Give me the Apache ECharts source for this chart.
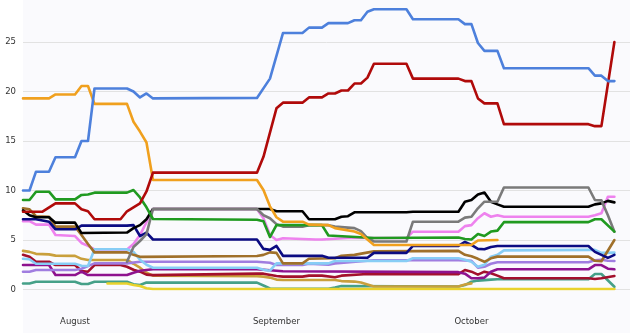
<!DOCTYPE html>
<html>
<head>
<meta charset="utf-8">
<script src="https://cdn.jsdelivr.net/npm/echarts@6/dist/echarts.min.js"></script>
<style>
html,body{margin:0;padding:0;background:#ffffff;}
#chart{width:630px;height:333px;}
</style>
</head>
<body>
<div id="chart"></div>
<script>
// x = day offset from 1 August
const monthTicks = [0, 31, 61];
const monthLabels = ['August', 'September', 'October'];
const yTicks = [0, 5, 10, 15, 20, 25];

const blue = [[-8,10.0],[-7,10.0],[-6,11.9],[-4,11.9],[-3,13.35],[0,13.35],[1,15.0],[2,15.0],[3,20.3],[8,20.3],[9,20.0],[10,19.4],[11,19.8],[12,19.3],[28,19.35],[30,21.3],[32,25.9],[35,25.9],[36,26.45],[38,26.45],[39,26.9],[42,26.9],[43,27.2],[44,27.2],[45,28.05],[46,28.3],[51,28.3],[52,27.3],[59,27.3],[60,26.8],[61,26.8],[62,24.9],[63,24.1],[65,24.1],[66,22.35],[79,22.35],[80,21.6],[81,21.6],[82,21.05],[83,21.05]];
const red = [[-8,7.86],[-5,7.86],[-3,8.7],[0,8.7],[1,8.1],[2,7.9],[3,7.1],[7,7.1],[8,7.9],[9,8.3],[10,8.7],[11,9.9],[12,11.8],[28,11.8],[29,13.4],[31,18.3],[32,18.87],[35,18.87],[36,19.4],[38,19.4],[39,19.8],[40,19.8],[41,20.1],[42,20.1],[43,20.8],[44,20.8],[45,21.4],[46,22.8],[51,22.8],[52,21.3],[59,21.3],[60,21.05],[61,21.05],[62,19.3],[63,18.8],[65,18.8],[66,16.7],[79,16.7],[80,16.5],[81,16.5],[83,25.0]];
const orange = [[-8,19.3],[-4,19.3],[-3,19.7],[0,19.7],[1,20.55],[2,20.55],[3,18.75],[8,18.75],[9,16.95],[10,15.95],[11,14.85],[12,11.06],[28,11.06],[29,10.05],[30,8.4],[31,7.3],[32,6.85],[35,6.85],[36,6.55],[39,6.5],[40,6.2],[43,5.85],[44,5.6],[46,4.5],[61,4.5],[62,4.95],[65,5.0]];
const green = [[-8,9.04],[-7,9.04],[-6,9.88],[-4,9.88],[-3,9.1],[0,9.1],[1,9.55],[2,9.6],[3,9.78],[8,9.78],[9,10.05],[10,9.3],[11,8.3],[12,7.12],[28,7.05],[29,6.9],[30,5.3],[31,6.5],[38,6.5],[39,5.45],[46,5.2],[59,5.25],[60,5.1],[61,5.05],[62,5.6],[63,5.4],[64,5.85],[65,5.95],[66,6.8],[79,6.8],[80,7.09],[81,7.09],[83,5.84]];
const black = [[-8,8.0],[-7,7.5],[-6,7.3],[-4,7.3],[-3,6.75],[0,6.75],[1,5.7],[8,5.75],[9,6.2],[10,6.5],[11,7.1],[12,8.13],[30,8.13],[31,7.9],[35,7.9],[36,7.09],[40,7.09],[41,7.35],[42,7.4],[43,7.8],[51,7.8],[52,7.86],[59,7.86],[60,8.87],[61,9.04],[62,9.6],[63,9.8],[64,8.87],[65,8.6],[66,8.36],[79,8.36],[80,8.6],[81,8.7],[82,8.95],[83,8.8]];
const gray = [[8,2.8],[9,4.3],[10,4.9],[11,5.6],[12,8.13],[28,8.13],[29,7.5],[30,7.2],[31,6.6],[32,6.35],[35,6.35],[36,6.5],[39,6.5],[40,6.35],[43,6.2],[44,5.9],[45,5.2],[46,4.85],[51,4.85],[52,6.85],[59,6.85],[60,7.26],[61,7.35],[62,8.2],[63,8.87],[65,8.87],[66,10.3],[79,10.3],[80,9.04],[81,9.0],[82,7.5],[83,5.84]];
const navy = [[-8,7.1],[-6,7.1],[-4,6.85],[-3,6.08],[0,6.08],[1,6.45],[8,6.45],[9,6.5],[10,5.4],[11,5.75],[12,5.05],[28,5.05],[29,4.1],[30,4.0],[31,4.4],[32,3.4],[38,3.4],[39,3.2],[45,3.2],[46,3.7],[51,3.7],[52,4.4],[59,4.4],[60,4.8],[61,4.5],[62,4.1],[63,4.06],[64,4.3],[65,4.4],[79,4.4],[80,3.8],[81,3.5],[82,3.2],[83,3.5]];
const pink = [[-8,6.9],[-7,6.9],[-6,6.55],[-4,6.55],[-3,5.5],[0,5.4],[1,4.7],[2,4.4],[3,4.05],[7,4.05],[8,4.05],[9,4.6],[10,5.5],[11,6.8],[12,8.13],[28,8.13],[29,7.2],[30,5.5],[31,5.0],[32,5.17],[37,5.05],[38,5.05],[42,5.2],[51,5.2],[52,5.84],[59,5.84],[60,6.4],[61,6.5],[62,7.2],[63,7.7],[64,7.35],[65,7.5],[66,7.35],[79,7.35],[80,7.5],[81,7.7],[82,9.37],[83,9.37]];
const brown = [[-8,8.2],[-7,8.1],[-6,7.4],[-4,7.35],[-3,6.35],[0,6.35],[1,5.5],[2,4.6],[3,3.75],[8,3.75],[9,3.5],[10,3.3],[28,3.38],[29,3.5],[30,3.75],[31,3.7],[32,2.64],[35,2.64],[36,3.1],[40,3.15],[41,3.4],[43,3.5],[46,3.85],[59,3.9],[60,3.5],[61,3.35],[62,3.1],[63,2.8],[64,3.15],[65,3.32],[79,3.32],[80,2.9],[81,2.85],[83,5.0]];
const lightBlue = [[-8,3.1],[-7,3.05],[-6,2.6],[0,2.6],[1,2.4],[2,2.37],[3,4.06],[8,4.06],[9,3.8],[10,3.0],[11,2.5],[12,2.2],[28,2.2],[29,2.0],[30,1.9],[31,2.64],[39,2.64],[40,2.88],[51,2.88],[52,3.15],[59,3.15],[60,3.0],[61,2.8],[62,2.3],[63,2.5],[64,3.32],[65,3.5],[66,3.95],[79,4.0],[80,4.0],[81,3.7],[83,3.72]];
const purple = [[-8,1.8],[-7,1.8],[-6,1.97],[0,1.97],[1,2.1],[3,2.64],[8,2.64],[10,2.8],[28,2.8],[30,2.7],[31,2.47],[35,2.47],[36,2.6],[39,2.5],[40,2.64],[45,2.9],[46,2.95],[59,2.95],[61,2.9],[62,2.2],[63,2.3],[64,2.6],[65,2.75],[79,2.75],[80,2.95],[81,3.0],[82,2.9],[83,2.88]];
const magenta = [[-8,2.47],[-4,2.47],[-3,1.46],[0,1.46],[1,1.8],[2,1.46],[8,1.46],[9,1.7],[10,1.9],[12,2.04],[28,2.04],[30,1.95],[32,1.85],[59,1.75],[60,1.6],[61,1.13],[62,1.13],[63,1.2],[64,1.8],[65,2.04],[79,2.04],[80,2.47],[81,2.47],[82,2.1],[83,2.04]];
const crimson = [[-8,3.5],[-7,3.3],[-6,2.8],[-4,2.8],[-3,2.47],[0,2.47],[1,1.87],[2,1.8],[3,2.47],[7,2.47],[8,2.3],[9,2.0],[10,1.8],[11,1.5],[12,1.45],[28,1.6],[29,1.6],[31,1.36],[32,1.3],[35,1.3],[36,1.4],[38,1.4],[40,1.23],[41,1.4],[45,1.56],[59,1.55],[60,1.97],[61,1.8],[62,1.5],[63,1.8],[64,1.65],[65,1.4],[66,1.13],[79,1.13],[80,1.06],[81,1.13],[83,1.36]];
const teal = [[-8,0.6],[-7,0.6],[-6,0.79],[0,0.79],[1,0.56],[2,0.56],[3,0.79],[8,0.79],[9,0.53],[10,0.45],[11,0.7],[28,0.69],[29,0.4],[30,0.1],[31,0.08],[39,0.08],[40,0.2],[41,0.35],[59,0.3],[60,0.45],[61,0.79],[62,0.9],[63,0.95],[64,1.0],[65,1.03],[79,1.03],[80,1.56],[81,1.56],[83,0.28]];
const goldenrod = [[-8,3.9],[-7,3.8],[-6,3.6],[-4,3.55],[-3,3.42],[0,3.4],[1,3.1],[2,2.98],[8,2.98],[9,2.6],[10,2.2],[11,1.7],[12,1.4],[28,1.35],[29,1.3],[30,1.2],[31,1.0],[32,0.96],[40,0.96],[41,0.85],[43,0.8],[44,0.7],[45,0.5],[46,0.3],[59,0.3],[60,0.5],[61,0.62]];
const yellow = [[5,0.6],[8,0.6],[9,0.45],[10,0.35],[11,0.12],[12,0.05],[83,0.05]];

const seriesList = [
  ['teal', teal, '#45a088'],
  ['goldenrod', goldenrod, '#c9a03c'],
  ['yellow', yellow, '#e9d22c'],
  ['crimson', crimson, '#a3102c'],
  ['magenta', magenta, '#8e128e'],
  ['purple', purple, '#a07de0'],
  ['pink', pink, '#ee82ee'],
  ['lightBlue', lightBlue, '#87cdf5'],
  ['brown', brown, '#a0702a'],
  ['navy', navy, '#0b0b82'],
  ['black', black, '#000000'],
  ['gray', gray, '#7a7a7a'],
  ['green', green, '#209a20'],
  ['orange', orange, '#f0a01e'],
  ['red', red, '#b00a0a'],
  ['blue', blue, '#4d80dc']
];

const chart = echarts.init(document.getElementById('chart'), null, {renderer: 'canvas'});
chart.setOption({
  animation: false,
  backgroundColor: '#ffffff',
  graphic: [{
    type: 'rect', z: -10, silent: true,
    shape: {x: 23, y: 0, width: 607, height: 333},
    style: {fill: '#fafafd'}
  }],
  grid: {left: 23, right: 0, top: 0, bottom: 43.5, containLabel: false},
  xAxis: {
    type: 'value', min: -8, max: 85.4,
    axisLine: {show: false}, axisTick: {show: false}, splitLine: {show: false},
    axisLabel: {
      customValues: monthTicks,
      margin: 28,
      fontFamily: 'DejaVu Sans', fontSize: 8.5, color: '#333',
      formatter: function (v) { const i = monthTicks.indexOf(Math.round(v)); return i >= 0 ? monthLabels[i] : ''; }
    }
  },
  yAxis: {
    type: 'value', min: 0, max: 29.24, interval: 5,
    axisLine: {show: false}, axisTick: {show: false},
    splitLine: {showMaxLine: false, lineStyle: {color: '#e2e2e2', width: 1}},
    axisLabel: {
      margin: 7, fontFamily: 'DejaVu Sans', fontSize: 8.5, color: '#333',
      showMaxLabel: false,
      formatter: function (v) { return yTicks.indexOf(v) >= 0 ? String(v) : ''; }
    }
  },
  series: seriesList.map(function (s) {
    return {
      name: s[0], type: 'line', data: s[1], showSymbol: false, symbol: 'none',
      lineStyle: {color: s[2], width: 2.6, join: 'round', cap: 'round'},
      itemStyle: {color: s[2]}
    };
  })
});
</script>
</body>
</html>
